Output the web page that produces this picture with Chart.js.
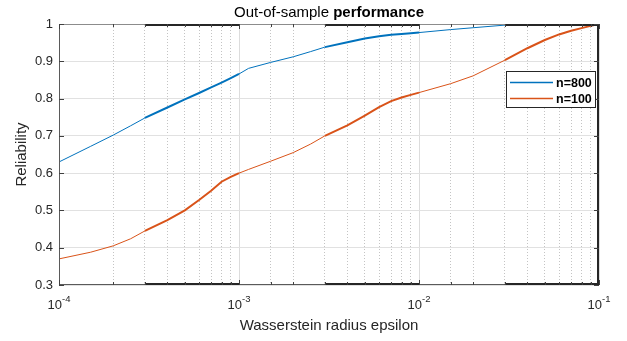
<!DOCTYPE html>
<html>
<head>
<meta charset="utf-8">
<script src="https://cdn.jsdelivr.net/npm/chart.js@4.4.1/dist/chart.umd.min.js"></script>
<style>
  html, body { margin: 0; padding: 0; background: #fff; }
</style>
</head>
<body>
<canvas id="perfChart" width="627" height="341"></canvas>
<script>
// radius values (x) shared by both curves
const epsilon = [1e-4, 1.5e-4, 2e-4, 2.5e-4, 3e-4, 4e-4, 5e-4, 6e-4, 7e-4, 8e-4, 9e-4,
  1e-3, 1.13e-3, 1.5e-3, 2e-3, 2.5e-3, 3e-3, 4e-3, 5e-3, 6e-3, 7e-3, 8e-3, 9e-3,
  1e-2, 1.5e-2, 2e-2, 3e-2, 4e-2, 5e-2, 6e-2, 7e-2, 8e-2, 9e-2, 1e-1];
const reliability800 = [0.630, 0.672, 0.702, 0.727, 0.748, 0.776, 0.798, 0.815, 0.830, 0.843, 0.855,
  0.866, 0.881, 0.897, 0.912, 0.926, 0.938, 0.951, 0.961, 0.967, 0.971, 0.973, 0.975,
  0.977, 0.985, 0.990, 0.997, 0.999, 1.000, 1.000, 1.000, 1.000, 1.000, 1.000];
const reliability100 = [0.370, 0.388, 0.405, 0.424, 0.445, 0.474, 0.500, 0.528, 0.553, 0.577, 0.590,
  0.600, 0.610, 0.632, 0.655, 0.678, 0.700, 0.728, 0.754, 0.777, 0.793, 0.803, 0.810,
  0.816, 0.840, 0.861, 0.903, 0.935, 0.957, 0.972, 0.982, 0.989, 0.995, 1.000];
const seriesNames = ['n=800', 'n=100'];

const yTickValues = [0.3, 0.4, 0.5, 0.6, 0.7, 0.8, 0.9, 1];
const yTickLabels = ['0.3', '0.4', '0.5', '0.6', '0.7', '0.8', '0.9', '1'];
const xDecades = [1e-4, 1e-3, 1e-2, 1e-1];
const xDecadeExps = ['-4', '-3', '-2', '-1'];
// ranges where the curves (and box edges) are drawn heavier
const denseRanges = [[3e-4, 1e-3], [3e-3, 1e-2], [3e-2, 1e-1]];

const BLUE = '#0072BD';
const ORANGE = '#D95319';
const FONT = '"Liberation Sans", Arial, sans-serif';

const isDecade = v => Math.abs(Math.log10(v) - Math.round(Math.log10(v))) < 1e-6;
const inDense = (a, b) => denseRanges.some(r => a >= r[0] * 0.999 && b <= r[1] * 1.001);

function toPoints(ys) {
    return epsilon.map((x, i) => ({ x: x, y: ys[i] }));
}

function hline(ctx, x1, x2, y, color, w) {
    ctx.beginPath();
    ctx.strokeStyle = color;
    ctx.lineWidth = w;
    ctx.moveTo(x1, y);
    ctx.lineTo(x2, y);
    ctx.stroke();
}

function vline(ctx, x, y1, y2, color, w) {
    ctx.beginPath();
    ctx.strokeStyle = color;
    ctx.lineWidth = w;
    ctx.moveTo(x, y1);
    ctx.lineTo(x, y2);
    ctx.stroke();
}

// matlab-ish box, inward ticks, labels and legend
const matlabAxes = {
    id: 'matlabAxes',
    afterDatasetsDraw(chart) {
        const { ctx, chartArea: a, scales } = chart;
        const xs = scales.x, ys = scales.y;
        ctx.save();

        // box
        hline(ctx, a.left, a.right, a.top + 0.5, '#8c8c8c', 1);
        hline(ctx, a.left, a.right, a.bottom - 0.5, '#5a5a5a', 1);
        vline(ctx, a.left + 0.5, a.top, a.bottom, '#5a5a5a', 1);
        vline(ctx, a.right - 1, a.top, a.bottom, '#262626', 2);

        // heavy pieces of top / bottom edge
        denseRanges.forEach(r => {
            const p1 = xs.getPixelForValue(r[0]);
            const p2 = xs.getPixelForValue(r[1]);
            hline(ctx, p1, p2, a.top + 1, '#262626', 2);
            hline(ctx, p1, p2, a.bottom - 1, '#262626', 2);
        });

        // x ticks pointing in
        xs.ticks.forEach(t => {
            const px = Math.round(xs.getPixelForValue(t.value)) + 0.5;
            const len = isDecade(t.value) ? 5 : 3;
            vline(ctx, px, a.bottom, a.bottom - len, '#404040', 1);
            vline(ctx, px, a.top, a.top + len, '#404040', 1);
        });

        // y ticks pointing in
        yTickValues.forEach(v => {
            const py = Math.round(ys.getPixelForValue(v)) + 0.5;
            hline(ctx, a.left, a.left + 5, py, '#404040', 1);
            hline(ctx, a.right - 5, a.right, py, '#404040', 1);
        });

        ctx.restore();
    },
    afterDraw(chart) {
        const { ctx, chartArea: a, scales } = chart;
        const xs = scales.x;
        const cx = (a.left + a.right) / 2;
        ctx.save();
        ctx.fillStyle = '#262626';
        ctx.textBaseline = 'alphabetic';

        // x decade labels 10^n
        xDecades.forEach((v, i) => {
            const px = xs.getPixelForValue(v);
            ctx.font = '13px ' + FONT;
            const wBase = ctx.measureText('10').width;
            ctx.font = '9.5px ' + FONT;
            const wExp = ctx.measureText(xDecadeExps[i]).width;
            const left = px - (wBase + wExp) / 2;
            ctx.textAlign = 'left';
            ctx.font = '13px ' + FONT;
            ctx.fillText('10', left, a.bottom + 24);
            ctx.font = '9.5px ' + FONT;
            ctx.fillText(xDecadeExps[i], left + wBase, a.bottom + 17);
        });

        // axis titles
        ctx.textAlign = 'center';
        ctx.font = '15px ' + FONT;
        ctx.fillText('Wasserstein radius epsilon', cx, a.bottom + 45);

        ctx.save();
        ctx.translate(26, (a.top + a.bottom) / 2);
        ctx.rotate(-Math.PI / 2);
        ctx.fillText('Reliability', 0, 0);
        ctx.restore();

        // title, second word bold
        ctx.font = '15px ' + FONT;
        const t1 = 'Out-of-sample ';
        const w1 = ctx.measureText(t1).width;
        ctx.font = 'bold 15px ' + FONT;
        const t2 = 'performance';
        const w2 = ctx.measureText(t2).width;
        const tx = cx - (w1 + w2) / 2;
        ctx.textAlign = 'left';
        ctx.fillStyle = '#000';
        ctx.font = '15px ' + FONT;
        ctx.fillText(t1, tx, a.top - 7);
        ctx.font = 'bold 15px ' + FONT;
        ctx.fillText(t2, tx + w1, a.top - 7);

        // legend box
        const lw = 90, lh = 37;
        const lx = a.right - 3 - lw;
        const ly = a.top + 47;
        ctx.fillStyle = '#fff';
        ctx.fillRect(lx, ly, lw, lh);
        ctx.strokeStyle = '#262626';
        ctx.lineWidth = 1;
        ctx.strokeRect(lx + 0.5, ly + 0.5, lw - 1, lh - 1);
        ctx.font = 'bold 12.5px ' + FONT;
        chart.data.datasets.forEach((ds, i) => {
            const yy = ly + 11 + i * 16;
            hline(ctx, lx + 4, lx + 47, yy + 0.5, ds.borderColor, 1.5);
            ctx.fillStyle = '#000';
            ctx.fillText(ds.label, lx + 50, yy + 5);
        });

        ctx.restore();
    }
};

const chart = new Chart(document.getElementById('perfChart'), {
    type: 'line',
    data: {
        datasets: [{
            label: seriesNames[0],
            data: toPoints(reliability800),
            borderColor: BLUE,
            borderWidth: 1,
            pointRadius: 0,
            tension: 0,
            segment: {
                borderWidth: c => inDense(c.p0.parsed.x, c.p1.parsed.x) ? 2 : 1
            }
        }, {
            label: seriesNames[1],
            data: toPoints(reliability100),
            borderColor: ORANGE,
            borderWidth: 1,
            pointRadius: 0,
            tension: 0,
            segment: {
                borderWidth: c => inDense(c.p0.parsed.x, c.p1.parsed.x) ? 2 : 1
            }
        }]
    },
    options: {
        responsive: false,
        animation: false,
        layout: { padding: { top: 24, right: 28, left: 0, bottom: 0 } },
        plugins: {
            legend: { display: false },
            title: { display: false },
            tooltip: { enabled: false }
        },
        scales: {
            x: {
                type: 'logarithmic',
                min: 1e-4,
                max: 1e-1,
                ticks: { display: false },
                grid: {
                    drawTicks: false,
                    color: c => (c.tick && isDecade(c.tick.value)) ? '#dcdcdc' : '#c4c4c4',
                    lineWidth: 1
                },
                border: {
                    display: false,
                    dash: c => (c.tick && !isDecade(c.tick.value)) ? [1, 2] : []
                },
                afterFit: s => { s.height = 56; }
            },
            y: {
                type: 'linear',
                min: 0.3,
                max: 1,
                afterBuildTicks: s => { s.ticks = yTickValues.map(v => ({ value: v })); },
                ticks: {
                    callback: (v, i) => yTickLabels[i],
                    font: { family: FONT, size: 13 },
                    color: '#262626',
                    padding: 6
                },
                grid: { drawTicks: false, color: '#e1e1e1', lineWidth: 1 },
                border: { display: false },
                afterFit: s => { s.width = 59; }
            }
        }
    },
    plugins: [matlabAxes]
});
</script>
</body>
</html>
